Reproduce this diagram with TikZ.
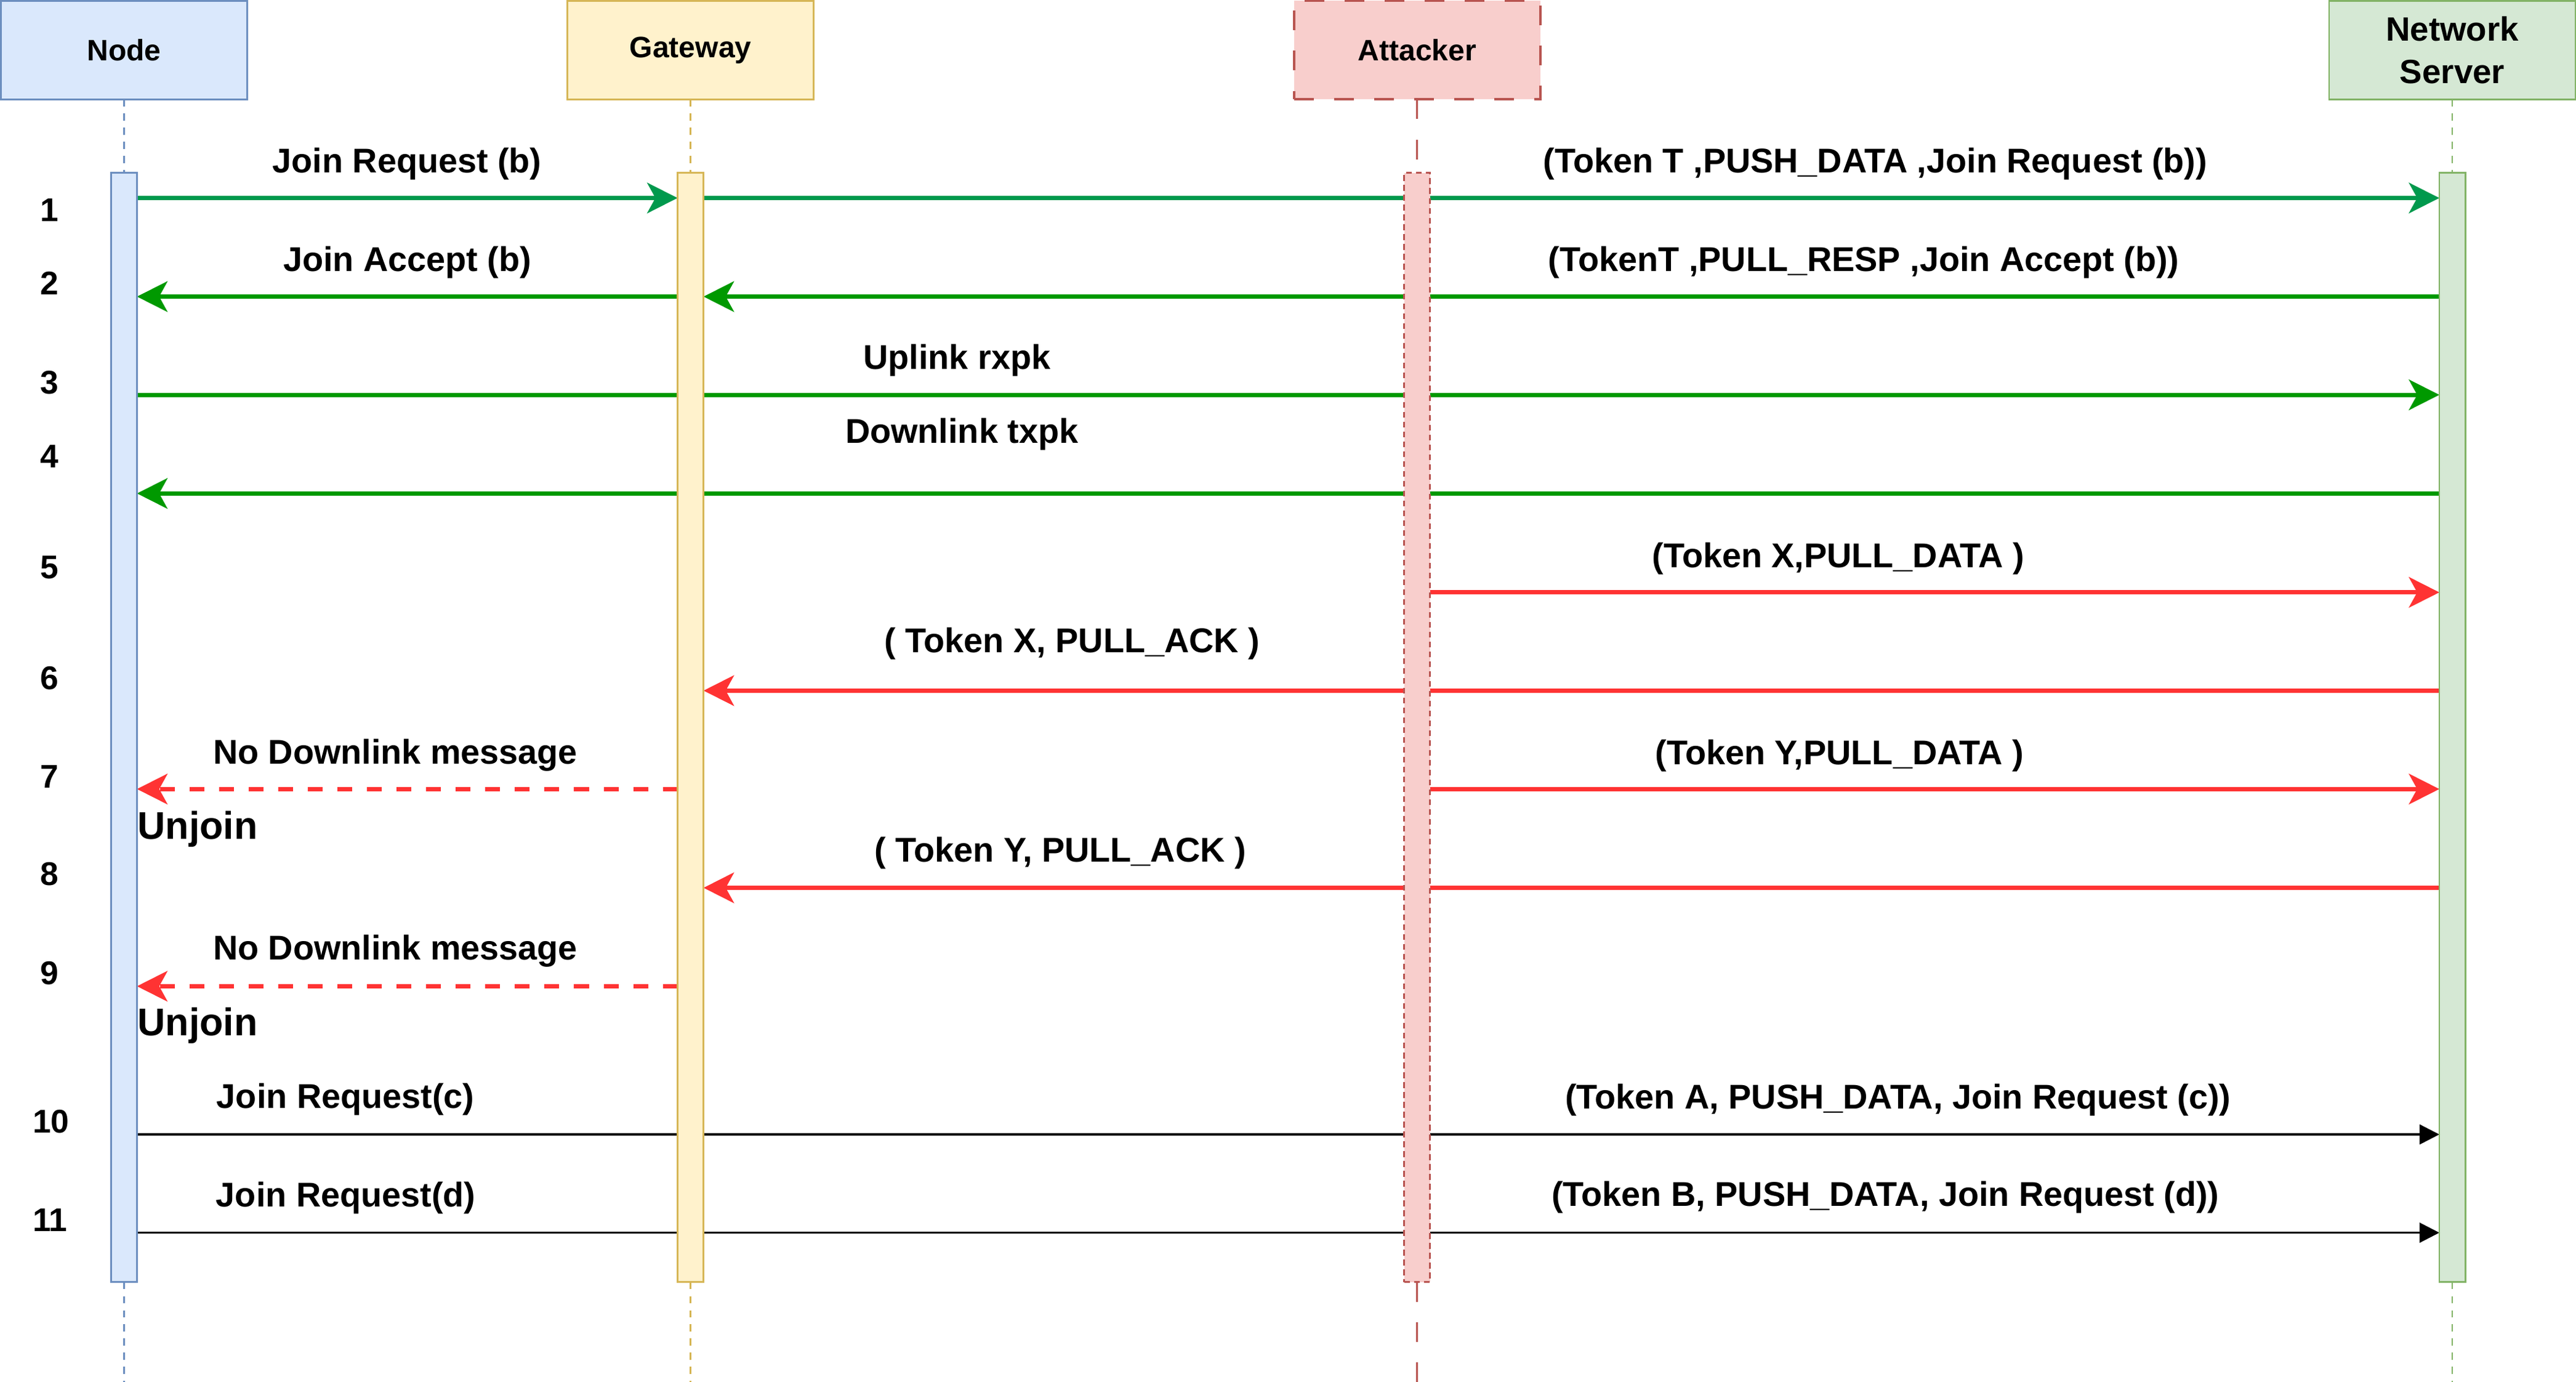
\documentclass[tikz,border=0pt]{standalone}
\usepackage{fontspec}
\setmainfont{Liberation Sans}
\usetikzlibrary{arrows.meta}
\definecolor{nodeF}{HTML}{DAE8FC}\definecolor{nodeS}{HTML}{6C8EBF}
\definecolor{gwF}{HTML}{FFF2CC}\definecolor{gwS}{HTML}{D6B656}
\definecolor{atF}{HTML}{F8CECC}\definecolor{atS}{HTML}{B85450}
\definecolor{nsF}{HTML}{D5E8D4}\definecolor{nsS}{HTML}{82B366}
\definecolor{gA}{HTML}{00994D}\definecolor{gB}{HTML}{009900}
\definecolor{rr}{HTML}{FF3333}
\pgfdeclarelayer{bg}
\pgfsetlayers{bg,main}
\begin{document}
\begin{tikzpicture}[x=1pt,y=-1pt,
  head/.style={draw, line width=1pt, minimum width=150pt, minimum height=60pt, inner sep=0pt, outer sep=0pt, font=\fontsize{18}{25.6}\selectfont\bfseries, align=center},
  bar/.style={draw, line width=1pt, minimum width=15.8pt, minimum height=675pt, inner sep=0pt, outer sep=0pt},
  life/.style={line width=1pt, dash pattern=on 4.3pt off 4.3pt},
  alife/.style={line width=1.2pt, dash pattern=on 12pt off 12.4pt},
  lbl/.style={font=\fontsize{20.9}{25}\selectfont\bfseries, anchor=base, inner sep=0pt},
  num/.style={font=\fontsize{20}{24}\selectfont\bfseries, anchor=base, inner sep=0pt},
  unj/.style={font=\fontsize{23.5}{28}\selectfont\bfseries, anchor=base west, inner sep=0pt},
  msg/.style={line width=2.7pt, -{Stealth[length=18.5pt,width=18.5pt,inset=5pt]}},
  msgdash/.style={msg, dash pattern=on 9pt off 9pt},
  blk/.style={line width=1.25pt, -{Triangle[length=12pt,width=12pt]}},
]
\useasboundingbox (0,0) rectangle (1568.2,841);

% participants
\node[head, fill=nodeF, draw=nodeS] (nh) at (75.5,30.5) {Node};
\node[head, fill=gwF, draw=gwS] (gh) at (420.4,30.5) {Gateway};
\node[head, fill=atF, draw=atS, line width=1.5pt, dash pattern=on 12pt off 12.4pt] (ah) at (862.7,30.5) {Attacker};
\node[head, fill=nsF, draw=nsS, font=\fontsize{20.5}{25.6}\selectfont\bfseries] (sh) at (1492.9,30.5) {Network\\Server};

% activation bars
\node[bar, fill=nodeF, draw=nodeS] (nb) at (75.5,442.7) {};
\node[bar, fill=gwF, draw=gwS] (gb) at (420.4,442.7) {};
\node[bar, fill=atF, draw=atS, dash pattern=on 3.5pt off 2.5pt] (ab) at (862.7,442.7) {};
\node[bar, fill=nsF, draw=nsS] (sb) at (1492.9,442.7) {};

% lifeline ends
\coordinate (ne) at (75.5,841);
\coordinate (ge) at (420.4,841);
\coordinate (ae) at (862.7,841);
\coordinate (se) at (1492.9,841);

% message rows
\coordinate (r1) at (0,120.5);
\coordinate (r2) at (0,180.5);
\coordinate (r3) at (0,240.3);
\coordinate (r4) at (0,300.3);
\coordinate (r5) at (0,360.5);
\coordinate (r6) at (0,420.3);
\coordinate (r7) at (0,480.2);
\coordinate (r8) at (0,540.3);
\coordinate (r9) at (0,600.2);
\coordinate (r10) at (0,690.4);
\coordinate (r11) at (0,750.2);

\begin{pgfonlayer}{bg}
  \draw[life, nodeS] (nh.south) -- (nb.north);
  \draw[life, nodeS] (nb.south) -- (ne);
  \draw[life, gwS] (gh.south) -- (gb.north);
  \draw[life, gwS] (gb.south) -- (ge);
  \draw[alife, atS] (ah.south) -- (ab.north);
  \draw[alife, atS] (ab.south) -- (ae);
  \draw[life, nsS] (sh.south) -- (sb.north);
  \draw[life, nsS] (sb.south) -- (se);

  \draw[msg, gA] (nb.east |- r1) -- (gb.west |- r1);
  \draw[msg, gA] (gb.east |- r1) -- (sb.west |- r1);
  \draw[msg, gB] (sb.west |- r2) -- (gb.east |- r2);
  \draw[msg, gB] (gb.west |- r2) -- (nb.east |- r2);
  \draw[msg, gB] (nb.east |- r3) -- (sb.west |- r3);
  \draw[msg, gB] (sb.west |- r4) -- (nb.east |- r4);
  \draw[msg, rr] (ab.east |- r5) -- (sb.west |- r5);
  \draw[msg, rr] (sb.west |- r6) -- (gb.east |- r6);
  \draw[msgdash, rr] (gb.west |- r7) -- (nb.east |- r7);
  \draw[msg, rr] (ab.east |- r7) -- (sb.west |- r7);
  \draw[msg, rr] (sb.west |- r8) -- (gb.east |- r8);
  \draw[msgdash, rr] (gb.west |- r9) -- (nb.east |- r9);
  \draw[blk, black] (nb.east |- r10) -- (sb.west |- r10);
  \draw[blk, black] (nb.east |- r11) -- (sb.west |- r11);
\end{pgfonlayer}

% labels
\node[lbl] (t1a) at (247.8,105) {Join Request (b)};
\node[lbl] (t1b) at (1141.6,105) {(Token T ,PUSH\_DATA ,Join Request (b))};
\node[lbl] (t2a) at (248,165) {Join Accept (b)};
\node[lbl] (t2b) at (1134.6,165) {(TokenT ,PULL\_RESP ,Join Accept (b))};
\node[lbl] (t3) at (582.6,224.8) {Uplink rxpk};
\node[lbl] (t4) at (585.5,269.7) {Downlink txpk};
\node[lbl] (t5) at (1119,345.2) {(Token X,PULL\_DATA )};
\node[lbl] (t6) at (652.7,397) {( Token X, PULL\_ACK )};
\node[lbl] (t7a) at (240.6,465) {No Downlink message};
\node[lbl] (t7b) at (1119.8,465.3) {(Token Y,PULL\_DATA )};
\node[lbl] (t8) at (645.5,524.7) {( Token Y, PULL\_ACK )};
\node[lbl] (t9) at (240.6,584) {No Downlink message};
\node[lbl] (t10a) at (210.3,674.3) {Join Request(c)};
\node[lbl] (t10b) at (1155.5,674.7) {(Token A, PUSH\_DATA, Join Request (c))};
\node[lbl] (t11a) at (210.5,734.4) {Join Request(d)};
\node[lbl] (t11b) at (1147.8,734) {(Token B, PUSH\_DATA, Join Request (d))};
\node[unj] (u7) at (83.6,510.8) {Unjoin};
\node[unj] (u9) at (83.6,630.3) {Unjoin};

% row numbers
\node[num] (n1) at (30,134.6) {1};
\node[num] (n2) at (30,179.5) {2};
\node[num] (n3) at (30,239.5) {3};
\node[num] (n4) at (30,284.5) {4};
\node[num] (n5) at (30,352.3) {5};
\node[num] (n6) at (30,419.5) {6};
\node[num] (n7) at (30,479.4) {7};
\node[num] (n8) at (30,538.8) {8};
\node[num] (n9) at (30,599) {9};
\node[num] (n10) at (31,689.5) {10};
\node[num] (n11) at (30.5,749.6) {11};
\end{tikzpicture}
\end{document}
